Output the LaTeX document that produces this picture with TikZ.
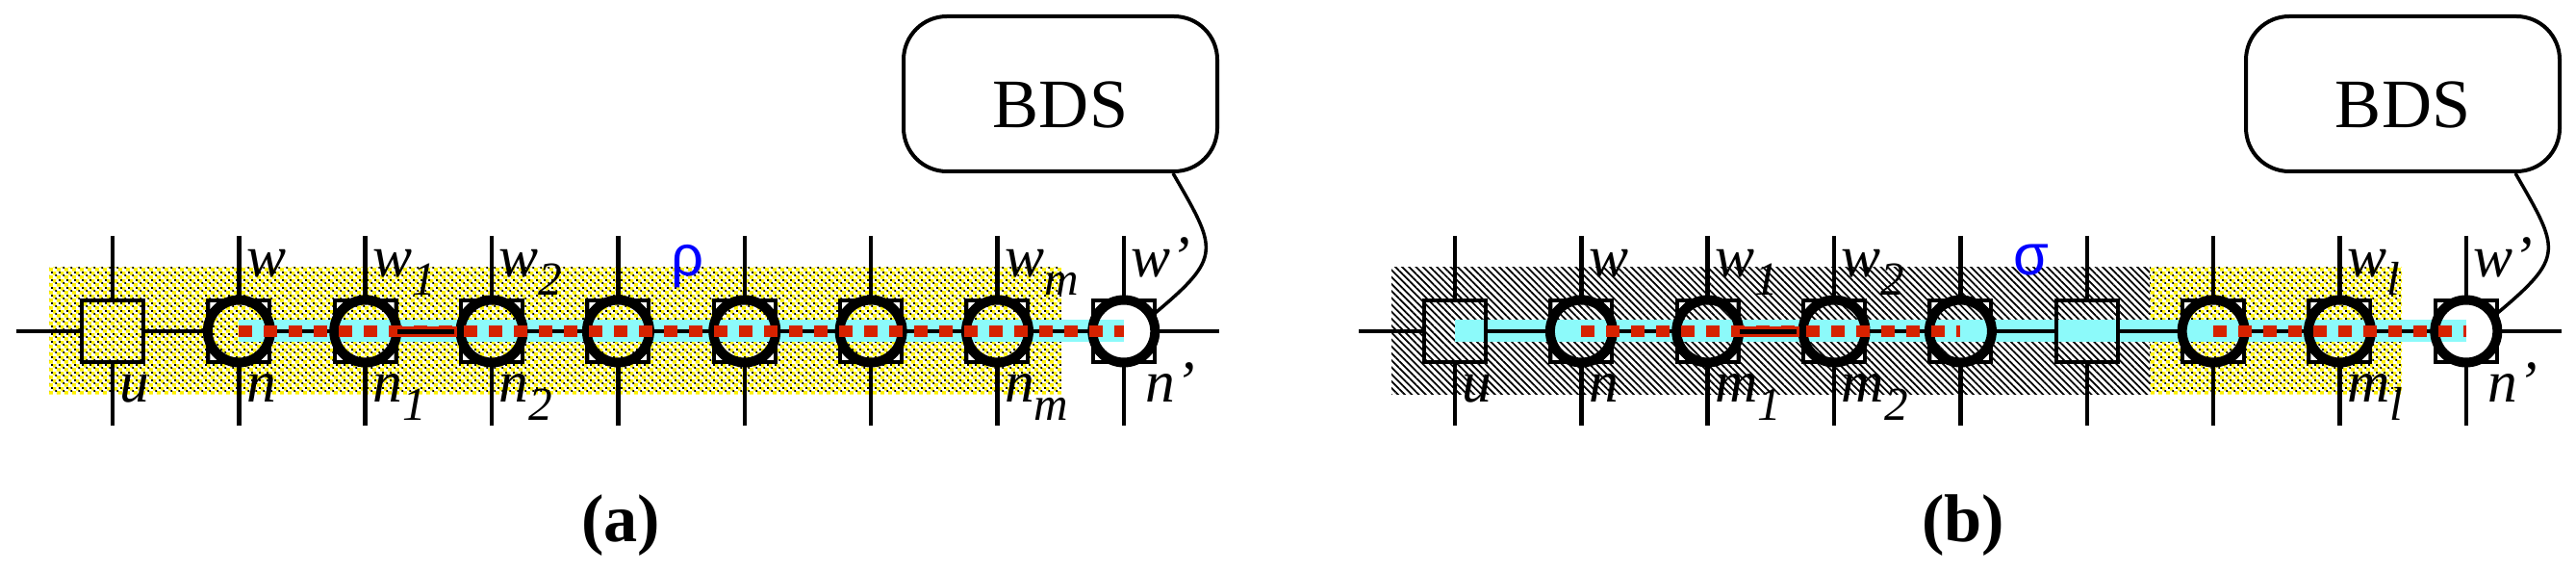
\documentclass[tikz,border=0pt]{standalone}
\usepackage{fontspec}
\newfontfamily\labfont{Liberation Serif}
\newfontfamily\grfont{Liberation Sans}
\usetikzlibrary{backgrounds,patterns,patterns.meta}
\definecolor{dashred}{RGB}{214,34,0}
\definecolor{bandcyan}{RGB}{140,250,250}
\pgfdeclarepatterninherentlycolored{yellowdots}{\pgfpointorigin}{\pgfqpoint{2.276pt}{2.276pt}}{\pgfqpoint{2.276pt}{2.276pt}}{%
  \pgfsetfillcolor{yellow}%
  \pgfpathrectangle{\pgfqpoint{0pt}{1.28pt}}{\pgfqpoint{0.99pt}{0.99pt}}%
  \pgfpathrectangle{\pgfqpoint{1.138pt}{0.14pt}}{\pgfqpoint{0.99pt}{0.99pt}}%
  \pgfusepath{fill}%
  \pgfsetfillcolor{black}%
  \pgfpathrectangle{\pgfqpoint{0.7pt}{0.9pt}}{\pgfqpoint{0.5pt}{0.5pt}}%
  \pgfpathrectangle{\pgfqpoint{1.776pt}{1.776pt}}{\pgfqpoint{0.5pt}{0.5pt}}%
  \pgfusepath{fill}%
}
\newcommand\lsub[1]{\raisebox{-5.3pt}{\fontsize{14}{14}\selectfont #1}}
\tikzset{wire/.style={line width=0.045cm},
  sqnode/.style={rectangle, draw, line width=0.04cm, minimum size=0.64cm, inner sep=0pt},
  crnode/.style={sqnode, path picture={
      \fill[even odd rule] (path picture bounding box.south west) rectangle (path picture bounding box.north east)
        (path picture bounding box.center) circle (0.3cm);
      \foreach \cn/\sx/\sy in {north west/1/-1, north east/-1/-1, south west/1/1, south east/-1/1}
        \fill[white] (path picture bounding box.\cn) ++(0.02*\sx,0.02*\sy) -- ++(0.07*\sx,0) -- ++(-0.07*\sx,0.07*\sy) -- cycle;}},
  ring/.style={circle, draw, line width=0.1cm, minimum size=0.65cm, inner sep=0pt},
  lab/.style={inner sep=0pt, anchor=base west, font=\labfont\itshape\fontsize{17.5}{20}\selectfont},
  greek/.style={inner sep=0pt, anchor=base, text=blue, font=\grfont\fontsize{17}{20}\selectfont},
  bds/.style={draw, line width=0.04cm, rounded corners=0.45cm, minimum width=3.26cm, minimum height=1.61cm, text height=0.7cm, text depth=0pt, font=\labfont\fontsize{20.5}{24}\selectfont},
  band/.style={fill=bandcyan},
  route/.style={dashred, line width=0.115cm, dash pattern=on 0.14cm off 0.12cm},
  link/.style={line width=0.035cm}}

\begin{document}
\begin{tikzpicture}
    \useasboundingbox (0,0) rectangle (26.77,-5.93);
    % the two rows of nodes
    \foreach \p/\dx/\sq in {a/0/0, b/13.95/5} {
        \foreach \k in {0,...,8} {
            \pgfmathtruncatemacro\isbox{\k==0 || \k==\sq}
            \ifnum\isbox=1
                \node[sqnode] (\p\k) at (\dx+1.17+1.3135*\k,-3.44) {};
            \else
                \node[crnode] (\p\k) at (\dx+1.17+1.3135*\k,-3.44) {};
                \node[ring] (\p\k c) at (\p\k) {};
            \fi
            \coordinate (\p\k t) at ([yshift=0.99cm]\p\k.center);
            \coordinate (\p\k b) at ([yshift=-0.98cm]\p\k.center);
            \draw[wire] (\p\k t) -- (\p\k) -- (\p\k b);
        }
        \coordinate (\p L) at (\dx+0.17,-3.44);
        \coordinate (\p R) at (\dx+12.67,-3.44);
        \draw[wire] (\p L) -- (\p0) -- (\p1) -- (\p2) -- (\p3) -- (\p4) -- (\p5) -- (\p6) -- (\p7) -- (\p8) -- (\p R);
        \node[bds] (\p B) at (\dx+11.02,-0.975) {BDS};
        \draw[link] ([xshift=-0.48cm]\p B.south east) to[out=-60,in=40,looseness=1.6] (\p8c.30);
    }
    % shaded regions
    \begin{scope}[on background layer]
        \fill[pattern=yellowdots] (0.51,-2.78) rectangle (11.03,-4.10);
        \fill[pattern={Lines[angle=-45,distance=1.45pt,line width=0.5pt]}] (14.46,-2.78) rectangle (22.34,-4.10);
        \fill[pattern=yellowdots] (22.34,-2.78) rectangle (24.96,-4.10);
        \fill[band] ([yshift=-0.115cm]a1.center) rectangle ([yshift=0.115cm]a8.center);
        \fill[band] ([yshift=-0.115cm]b0.center) rectangle ([yshift=0.115cm]b8.center);
    \end{scope}
    % routes
    \draw[route] (a1.center) -- (a8.center);
    \draw[route] (b1.center) -- (b4.center);
    \draw[route] (b6.center) -- (b8.center);
    \filldraw[draw=dashred, fill=black, line width=0.03cm] ([shift={(0.318,0.035)}]a2.center) rectangle ([shift={(-0.376,-0.045)}]a3.center);
    \filldraw[draw=dashred, fill=black, line width=0.03cm] ([shift={(0.318,0.035)}]b2.center) rectangle ([shift={(-0.376,-0.045)}]b3.center);
    % labels
    \foreach \k/\tx in {1/w, 2/w\lsub{1}, 3/w\lsub{2}, 7/w\lsub{m}, 8/w’}
        \node[lab] (aw\k) at ([shift={(0.07,0.56)}]a\k.center) {\tx};
    \foreach \k/\tx in {0/u, 1/n, 2/n\lsub{1}, 3/n\lsub{2}, 7/n\lsub{m}}
        \node[lab] (an\k) at ([shift={(0.07,-0.74)}]a\k.center) {\tx};
    \node[lab] (an8) at ([shift={(0.22,-0.74)}]a8.center) {n’};
    \foreach \k/\tx in {1/w, 2/w\lsub{1}, 3/w\lsub{2}, 7/w\lsub{l}, 8/w’}
        \node[lab] (bw\k) at ([shift={(0.07,0.56)}]b\k.center) {\tx};
    \foreach \k/\tx in {0/u, 1/n, 2/m\lsub{1}, 3/m\lsub{2}, 7/m\lsub{l}}
        \node[lab] (bn\k) at ([shift={(0.07,-0.74)}]b\k.center) {\tx};
    \node[lab] (bn8) at ([shift={(0.22,-0.74)}]b8.center) {n’};
    \node[greek] (rho) at (7.14,-2.87) {ρ};
    \node[greek] (sigma) at (21.11,-2.86) {σ};
    \node[font=\labfont\bfseries\fontsize{20}{24}\selectfont] (capa) at (6.45,-5.46) {(a)};
    \node[font=\labfont\bfseries\fontsize{20}{24}\selectfont] (capb) at (20.40,-5.46) {(b)};
\end{tikzpicture}
\end{document}
